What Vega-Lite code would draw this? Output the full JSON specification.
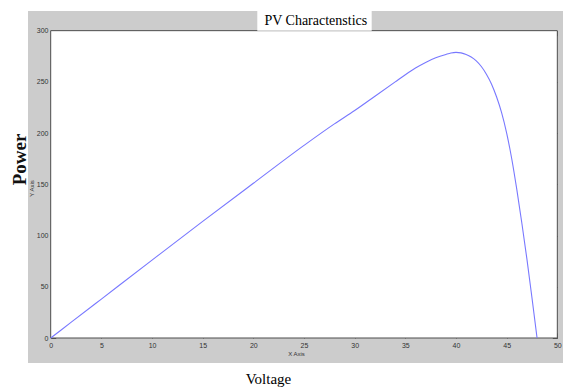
{
  "$schema": "https://vega.github.io/schema/vega-lite/v6.json",
  "width": 535,
  "height": 352,
  "autosize": {"type": "none"},
  "padding": {"left": 28, "top": 11, "right": 0, "bottom": 27},
  "background": "white",
  "title": {"text": "PV Charactenstics", "font": "Liberation Serif", "fontSize": 14, "fontWeight": "normal", "color": "#000000", "anchor": "middle", "frame": "group", "dx": 20.3, "dy": 38.6, "offset": 0, "baseline": "alphabetic"},
  "config": {
    "view": {"fill": "#cccccc", "stroke": null},
    "axis": {"grid": false, "zindex": 1, "domain": false, "labelFont": "Liberation Sans", "labelFontSize": 7, "labelColor": "#333333", "tickColor": "#555555", "labelFlush": false, "labelOverlap": false}
  },
  "data": {"values": [
    {"V": 0, "P": 0}, {"V": 2, "P": 15.2}, {"V": 5, "P": 38}, {"V": 10, "P": 76}, {"V": 15, "P": 113.8},
    {"V": 20, "P": 151}, {"V": 25, "P": 188}, {"V": 28, "P": 209}, {"V": 30, "P": 222}, {"V": 32, "P": 236},
    {"V": 34, "P": 250}, {"V": 35, "P": 257}, {"V": 36, "P": 263.5}, {"V": 37, "P": 269}, {"V": 38, "P": 273.5},
    {"V": 39, "P": 276.8}, {"V": 39.5, "P": 278.2}, {"V": 40, "P": 278.8}, {"V": 40.5, "P": 278.3}, {"V": 41, "P": 276.8},
    {"V": 41.5, "P": 274.3}, {"V": 42, "P": 270.5}, {"V": 42.5, "P": 265}, {"V": 43, "P": 257.5}, {"V": 43.5, "P": 248},
    {"V": 44, "P": 235.5}, {"V": 44.5, "P": 220}, {"V": 45, "P": 200}, {"V": 45.5, "P": 175}, {"V": 46, "P": 145},
    {"V": 46.5, "P": 112}, {"V": 47, "P": 77}, {"V": 47.5, "P": 39}, {"V": 48, "P": 0}
  ]},
  "layer": [
    {
      "data": {"values": [{}]},
      "mark": {"type": "rect", "fill": "white", "stroke": "#4d4d4d", "strokeWidth": 1},
      "encoding": {
        "x": {"datum": 0, "type": "quantitative",
          "scale": {"domain": [-2.24, 50.56], "nice": false, "zero": false},
          "axis": {"orient": "bottom", "offset": -25, "values": [0, 5, 10, 15, 20, 25, 30, 35, 40, 45, 50], "tickSize": -5, "labelPadding": 8,
            "title": "X Axis", "titleFont": "Liberation Sans", "titleFontSize": 6, "titleFontWeight": "normal", "titleColor": "#333333",
            "titleX": 268, "titleY": 15.5, "titleBaseline": "middle", "titleAlign": "center"}},
        "x2": {"datum": 50},
        "y": {"datum": 0, "type": "quantitative",
          "scale": {"domain": [-24.4, 319.2], "nice": false, "zero": false},
          "axis": {"orient": "left", "offset": -22.7, "values": [0, 50, 100, 150, 200, 250, 300], "tickSize": -5, "labelPadding": 7.7,
            "title": "Y Axis", "titleFont": "Liberation Sans", "titleFontSize": 6, "titleFontWeight": "normal", "titleColor": "#333333",
            "titleX": -19.7, "titleY": 177, "titleAngle": -90, "titleBaseline": "middle", "titleAlign": "center"}},
        "y2": {"datum": 300}
      }
    },
    {
      "mark": {"type": "line", "color": "#7878ff", "strokeWidth": 1.1, "interpolate": "monotone"},
      "encoding": {
        "x": {"field": "V", "type": "quantitative",
          "axis": {"orient": "top", "offset": -19.67, "values": [0, 5, 10, 15, 20, 25, 30, 35, 40, 45, 50], "tickSize": -5, "labels": false, "title": null}},
        "y": {"field": "P", "type": "quantitative",
          "axis": {"orient": "right", "offset": -5.7, "values": [0, 50, 100, 150, 200, 250, 300], "tickSize": -5, "labels": false, "title": null}}
      }
    },
    {
      "data": {"values": [{}]},
      "mark": {"type": "rect", "fill": "white"},
      "encoding": {
        "x": {"datum": 20.39, "type": "quantitative",
          "axis": {"orient": "bottom", "ticks": false, "labels": false, "title": "Voltage", "titleFont": "Liberation Serif", "titleFontSize": 15, "titleFontWeight": "normal", "titleColor": "#000000",
            "titleX": 240, "titleY": 20.3, "titleBaseline": "alphabetic", "titleAlign": "center"}},
        "x2": {"datum": 31.68},
        "y": {"datum": 300, "type": "quantitative",
          "axis": {"orient": "left", "ticks": false, "labels": false, "title": "Power", "titleFont": "Liberation Serif", "titleFontSize": 19, "titleFontWeight": "bold", "titleColor": "#111111",
            "titleX": -3, "titleY": 148, "titleAngle": -90, "titleBaseline": "alphabetic", "titleAlign": "center"}},
        "y2": {"datum": 330}
      }
    }
  ],
  "resolve": {"axis": {"x": "independent", "y": "independent"}}
}
